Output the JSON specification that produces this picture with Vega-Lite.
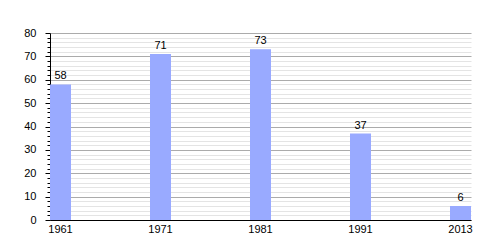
{
  "$schema": "https://vega.github.io/schema/vega-lite/v6.json",
  "width": 421,
  "height": 187,
  "padding": {"left": 50, "top": 33, "right": 29, "bottom": 30},
  "autosize": {"type": "none"},
  "background": "white",
  "config": {
    "view": {"stroke": null},
    "font": "Liberation Sans",
    "axis": {"labelFont": "Liberation Sans", "labelFontSize": 11, "labelColor": "#000", "domainColor": "#000"}
  },
  "data": {"values": [
    {"year": "1961", "value": 58},
    {"year": "1971", "value": 71},
    {"year": "1981", "value": 73},
    {"year": "1991", "value": 37},
    {"year": "2013", "value": 6}
  ]},
  "encoding": {
    "x": {"field": "year", "type": "ordinal", "sort": null,
      "scale": {"paddingInner": 0.79, "paddingOuter": 0},
      "axis": {"title": null, "labelAngle": 0, "ticks": false, "domainColor": "#000", "labelPadding": 3, "grid": false}},
    "y": {"field": "value", "type": "quantitative",
      "scale": {"domain": [0, 80], "nice": false},
      "axis": {"title": null,
        "values": [0,2,4,6,8,10,12,14,16,18,20,22,24,26,28,30,32,34,36,38,40,42,44,46,48,50,52,54,56,58,60,62,64,66,68,70,72,74,76,78,80],
        "labelExpr": "datum.value % 10 === 0 ? datum.label : ''",
        "grid": true,
        "gridColor": {"condition": {"test": "datum.value % 10 === 0", "value": "#ababab"}, "value": "#e4e4e4"},
        "tickColor": "#000",
        "tickSize": {"condition": {"test": "datum.value % 10 === 0", "value": 5}, "value": 3},
        "labelPadding": 9,
        "labelFlush": false,
        "labelOverlap": false}}
  },
  "layer": [
    {"mark": {"type": "bar", "color": "#99aaff"}},
    {"mark": {"type": "text", "baseline": "bottom", "dy": -3, "fontSize": 11, "color": "#000"},
     "encoding": {"text": {"field": "value", "type": "quantitative"}}}
  ]
}
